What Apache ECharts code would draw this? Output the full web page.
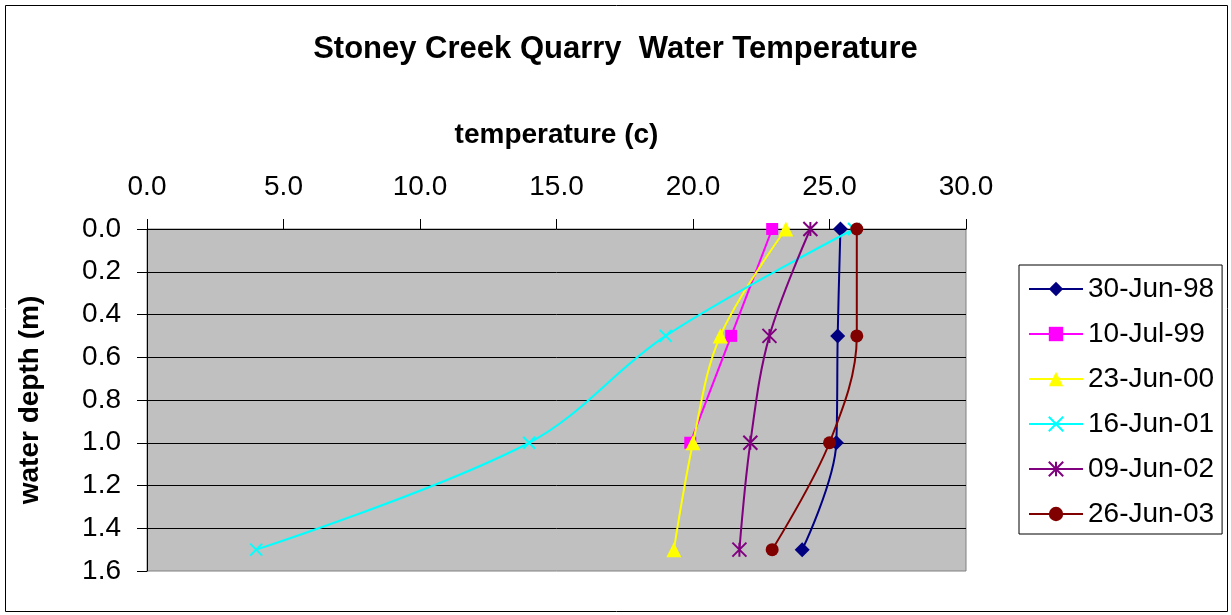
<!DOCTYPE html>
<html>
<head>
<meta charset="utf-8">
<script src="https://cdn.jsdelivr.net/npm/echarts@6/dist/echarts.min.js"></script>
<style>
  html, body { margin: 0; padding: 0; background: #fff; }
  #chart { width: 1231px; height: 615px; }
</style>
</head>
<body>
<div id="chart"></div>
<script>
// Depth readings (m) and temperature profiles (°C) for each survey date
const depths = [0.0, 0.5, 1.0, 1.5];
const seriesNames = ['30-Jun-98', '10-Jul-99', '23-Jun-00', '16-Jun-01', '09-Jun-02', '26-Jun-03'];
const temp98 = [25.4, 25.3, 25.25, 24.0];
const temp99 = [22.9, 21.4, 19.9];
const temp00 = [23.4, 21.0, 20.0, 19.3];
const temp01 = [25.9, 19.0, 14.0, 4.0];
const temp02 = [24.3, 22.8, 22.1, 21.7];
const temp03 = [26.0, 26.0, 25.0, 22.9];
const xTicks = [0, 5, 10, 15, 20, 25, 30];
const yTicks = [0, 0.2, 0.4, 0.6, 0.8, 1.0, 1.2, 1.4, 1.6];

const temps = [temp98, temp99, temp00, temp01, temp02, temp03];
const colors = ['#000080', '#FF00FF', '#FFFF00', '#00FFFF', '#800080', '#800000'];
const symbols = [
  'diamond',
  'rect',
  'triangle',
  'path://M0,0L10,10M10,0L0,10',
  'path://M0,0L10,10M10,0L0,10M5,0L5,10',
  'circle'
];
const symbolSizes = [15, 12, 15, 12, 14, 13];
const strokeOnly = [false, false, false, true, true, false];

const FONT = '"Liberation Sans", Arial, sans-serif';

const series = seriesNames.map((name, i) => ({
  name: name,
  type: 'line',
  smooth: 0.35,
  data: temps[i].map((t, k) => [t, depths[k]]),
  symbol: symbols[i],
  symbolSize: symbolSizes[i],
  showAllSymbol: true,
  lineStyle: { color: colors[i], width: 2 },
  itemStyle: strokeOnly[i]
    ? { color: colors[i], borderColor: colors[i], borderWidth: 2 }
    : { color: colors[i], borderWidth: 0 },
  emphasis: { disabled: true },
  z: 3 + i
}));

const chart = echarts.init(document.getElementById('chart'), null, { renderer: 'canvas' });
chart.setOption({
  animation: false,
  backgroundColor: '#ffffff',
  title: {
    text: 'Stoney Creek Quarry  Water Temperature',
    left: 'center',
    top: 29,
    textStyle: { fontFamily: FONT, fontSize: 31, fontWeight: 'bold', color: '#000' }
  },
  graphic: [{
    type: 'rect',
    shape: { x: 5.5, y: 5.5, width: 1222, height: 606 },
    style: { fill: 'none', stroke: '#000', lineWidth: 1 },
    silent: true
  }],
  legend: {
    orient: 'vertical',
    left: 1019,
    top: 265,
    padding: [10, 8, 6, 9],
    itemGap: 17,
    itemWidth: 54,
    itemHeight: 18,
    backgroundColor: '#fff',
    borderColor: '#000',
    borderWidth: 1,
    borderRadius: 0,
    textStyle: { fontFamily: FONT, fontSize: 28, color: '#000' },
    data: seriesNames
  },
  grid: {
    left: 147, right: 265, top: 229, bottom: 44,
    show: true,
    backgroundColor: '#C0C0C0',
    borderColor: '#808080',
    borderWidth: 1
  },
  xAxis: {
    type: 'value',
    position: 'top',
    min: xTicks[0],
    max: xTicks[xTicks.length - 1],
    interval: 5,
    name: 'temperature (c)',
    nameLocation: 'middle',
    nameGap: 80,
    nameTextStyle: { fontFamily: FONT, fontSize: 28, fontWeight: 'bold', color: '#000' },
    axisLine: { show: true, lineStyle: { color: '#000', width: 1 } },
    axisTick: { show: true, inside: false, length: 10, lineStyle: { color: '#000' } },
    axisLabel: {
      margin: 28,
      fontFamily: FONT, fontSize: 28, color: '#000',
      formatter: v => v.toFixed(1)
    },
    splitLine: { show: false }
  },
  yAxis: {
    type: 'value',
    inverse: true,
    min: yTicks[0],
    max: yTicks[yTicks.length - 1],
    interval: 0.2,
    name: 'water depth (m)',
    nameLocation: 'middle',
    nameRotate: 90,
    nameGap: 103,
    nameTextStyle: { fontFamily: FONT, fontSize: 28, fontWeight: 'bold', color: '#000' },
    axisLine: { show: true, lineStyle: { color: '#000', width: 1 } },
    axisTick: { show: true, inside: false, length: 10, lineStyle: { color: '#000' } },
    axisLabel: {
      margin: 26,
      fontFamily: FONT, fontSize: 28, color: '#000',
      formatter: v => v.toFixed(1)
    },
    splitLine: { show: true, showMinLine: false, showMaxLine: false, lineStyle: { color: '#000', width: 1 } }
  },
  series: series
});
</script>
</body>
</html>
